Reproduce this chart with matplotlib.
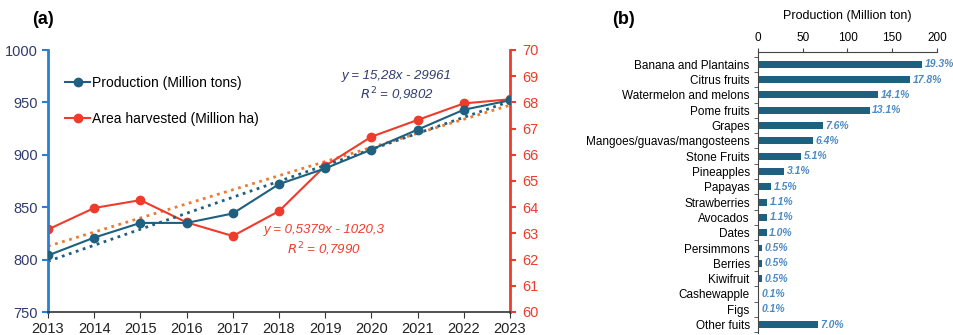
import numpy as np
import matplotlib.pyplot as plt
from matplotlib.ticker import MultipleLocator, FixedLocator

plt.rcParams['font.family'] = ['Liberation Sans', 'DejaVu Sans']

# panel (a) data
years = [2013, 2014, 2015, 2016, 2017, 2018, 2019, 2020, 2021, 2022, 2023]
production = [804, 821, 835, 835, 844, 872, 887, 905, 924, 943, 952]
area = [63.15, 63.97, 64.27, 63.42, 62.90, 63.85, 65.58, 66.69, 67.33, 67.96, 68.12]

# panel (b) data
fruits = ['Banana and Plantains', 'Citrus fruits', 'Watermelon and melons', 'Pome fruits',
          'Grapes', 'Mangoes/guavas/mangosteens', 'Stone Fruits', 'Pineapples', 'Papayas',
          'Strawberries', 'Avocados', 'Dates', 'Persimmons', 'Berries', 'Kiwifruit',
          'Cashewapple', 'Figs', 'Other fuits']
fruit_prod = [183.7, 169.5, 134.3, 124.7, 72.4, 61.0, 48.6, 29.5, 14.3, 10.5, 10.5,
              9.5, 4.8, 4.8, 4.8, 1.0, 1.0, 66.7]
fruit_pct = ['19.3%', '17.8%', '14.1%', '13.1%', '7.6%', '6.4%', '5.1%', '3.1%', '1.5%',
             '1.1%', '1.1%', '1.0%', '0.5%', '0.5%', '0.5%', '0.1%', '0.1%', '7.0%']

c_prod = '#1f5f80'
c_area = '#ee3b2b'
c_navy = '#2f3b6e'

fig = plt.figure(figsize=(9.54, 3.35), dpi=100)

# ---- (a) ----
ax = fig.add_axes([48/954, 1-312/335, 462/954, 262/335])
ax2 = ax.twinx()
ax.set_zorder(ax2.get_zorder() + 1)
ax.patch.set_visible(False)

yrs = np.array(years)
p1 = np.polyfit(yrs, production, 1)
p2 = np.polyfit(yrs, area, 1)
ax.plot(yrs, np.polyval(p1, yrs), ls=':', color=c_prod, lw=2, zorder=1)
ax2.plot(yrs, np.polyval(p2, yrs), ls=':', color='#f07a30', lw=2, zorder=1)

ax2.plot(yrs, area, '-o', color=c_area, lw=1.5, ms=6, zorder=2)
lp, = ax.plot(yrs, production, '-o', color=c_prod, lw=1.5, ms=6, zorder=3)
la, = ax.plot([], [], '-o', color=c_area, lw=1.5, ms=6)

ax.set_xlim(2013, 2023)
ax.set_ylim(750, 1000)
ax2.set_ylim(60, 70)
ax.set_xticks(years)
ax.yaxis.set_major_locator(MultipleLocator(50))
ax2.yaxis.set_major_locator(MultipleLocator(1))

for s in ['top', 'right']:
    ax.spines[s].set_visible(False)
for s in ['top', 'left', 'bottom']:
    ax2.spines[s].set_visible(False)
ax.spines['left'].set_color('#2a80d0')
ax.spines['left'].set_linewidth(2)
ax.spines['bottom'].set_color('#333333')
ax.spines['bottom'].set_linewidth(1.2)
ax2.spines['right'].set_color(c_area)
ax2.spines['right'].set_linewidth(2)

ax.tick_params(axis='y', colors=c_navy, labelsize=10.5, length=4, color='#2a80d0', width=1.5)
ax.tick_params(axis='x', labelsize=10.5, length=4, color='#333333', labelcolor='#222222', pad=3)
ax2.tick_params(axis='y', colors=c_area, labelsize=10.5, length=4, width=1.5, pad=5)

ax.legend([lp, la], ['Production (Million tons)', 'Area harvested (Million ha)'],
          loc='upper left', bbox_to_anchor=(0.01, 0.95), frameon=False, fontsize=10,
          handlelength=1.8, handletextpad=0.15, labelspacing=1.6)

ax.text(0.755, 0.86, 'y = 15,28x - 29961\n$R^2$ = 0,9802', transform=ax.transAxes,
        ha='center', va='center', color=c_navy, fontsize=9.5, style='italic', linespacing=1.3)
ax.text(0.597, 0.27, 'y = 0,5379x - 1020,3\n$R^2$ = 0,7990', transform=ax.transAxes,
        ha='center', va='center', color=c_area, fontsize=9.5, style='italic', linespacing=1.3)

fig.text(32/954, 1-20/335, '(a)', fontsize=13, fontweight='bold', va='center')

# ---- (b) ----
bx = fig.add_axes([758/954, 1-333/335, 179/954, 281/335])
pos = np.arange(len(fruits))
bx.barh(pos, fruit_prod, height=0.45, color=c_prod)
for y, v, t in zip(pos, fruit_prod, fruit_pct):
    bx.text(v + 3, y, t, va='center', ha='left', color='#4a8ac4', fontsize=7.5,
            style='italic', fontweight='bold')
bx.set_xlim(0, 200)
bx.set_ylim(len(fruits) - 0.45, -0.8)
bx.set_yticks(pos)
bx.set_yticklabels(fruits, fontsize=8.5)
bx.yaxis.set_minor_locator(FixedLocator(np.arange(-0.5, len(fruits), 1)))
bx.tick_params(axis='y', which='major', length=0, pad=6)
bx.tick_params(axis='y', which='minor', length=3, color='#444444')
bx.xaxis.tick_top()
bx.xaxis.set_label_position('top')
bx.set_xticks([0, 50, 100, 150, 200])
bx.tick_params(axis='x', labelsize=8.5, length=3, color='#444444', pad=3)
bx.set_xlabel('Production (Million ton)', fontsize=9, labelpad=9)
for s in ['right', 'bottom']:
    bx.spines[s].set_visible(False)
bx.spines['top'].set_color('#444444')
bx.spines['left'].set_color('#444444')

fig.text(612/954, 1-19/335, '(b)', fontsize=13, fontweight='bold', va='center')

fig.savefig('out.png', dpi=100)
